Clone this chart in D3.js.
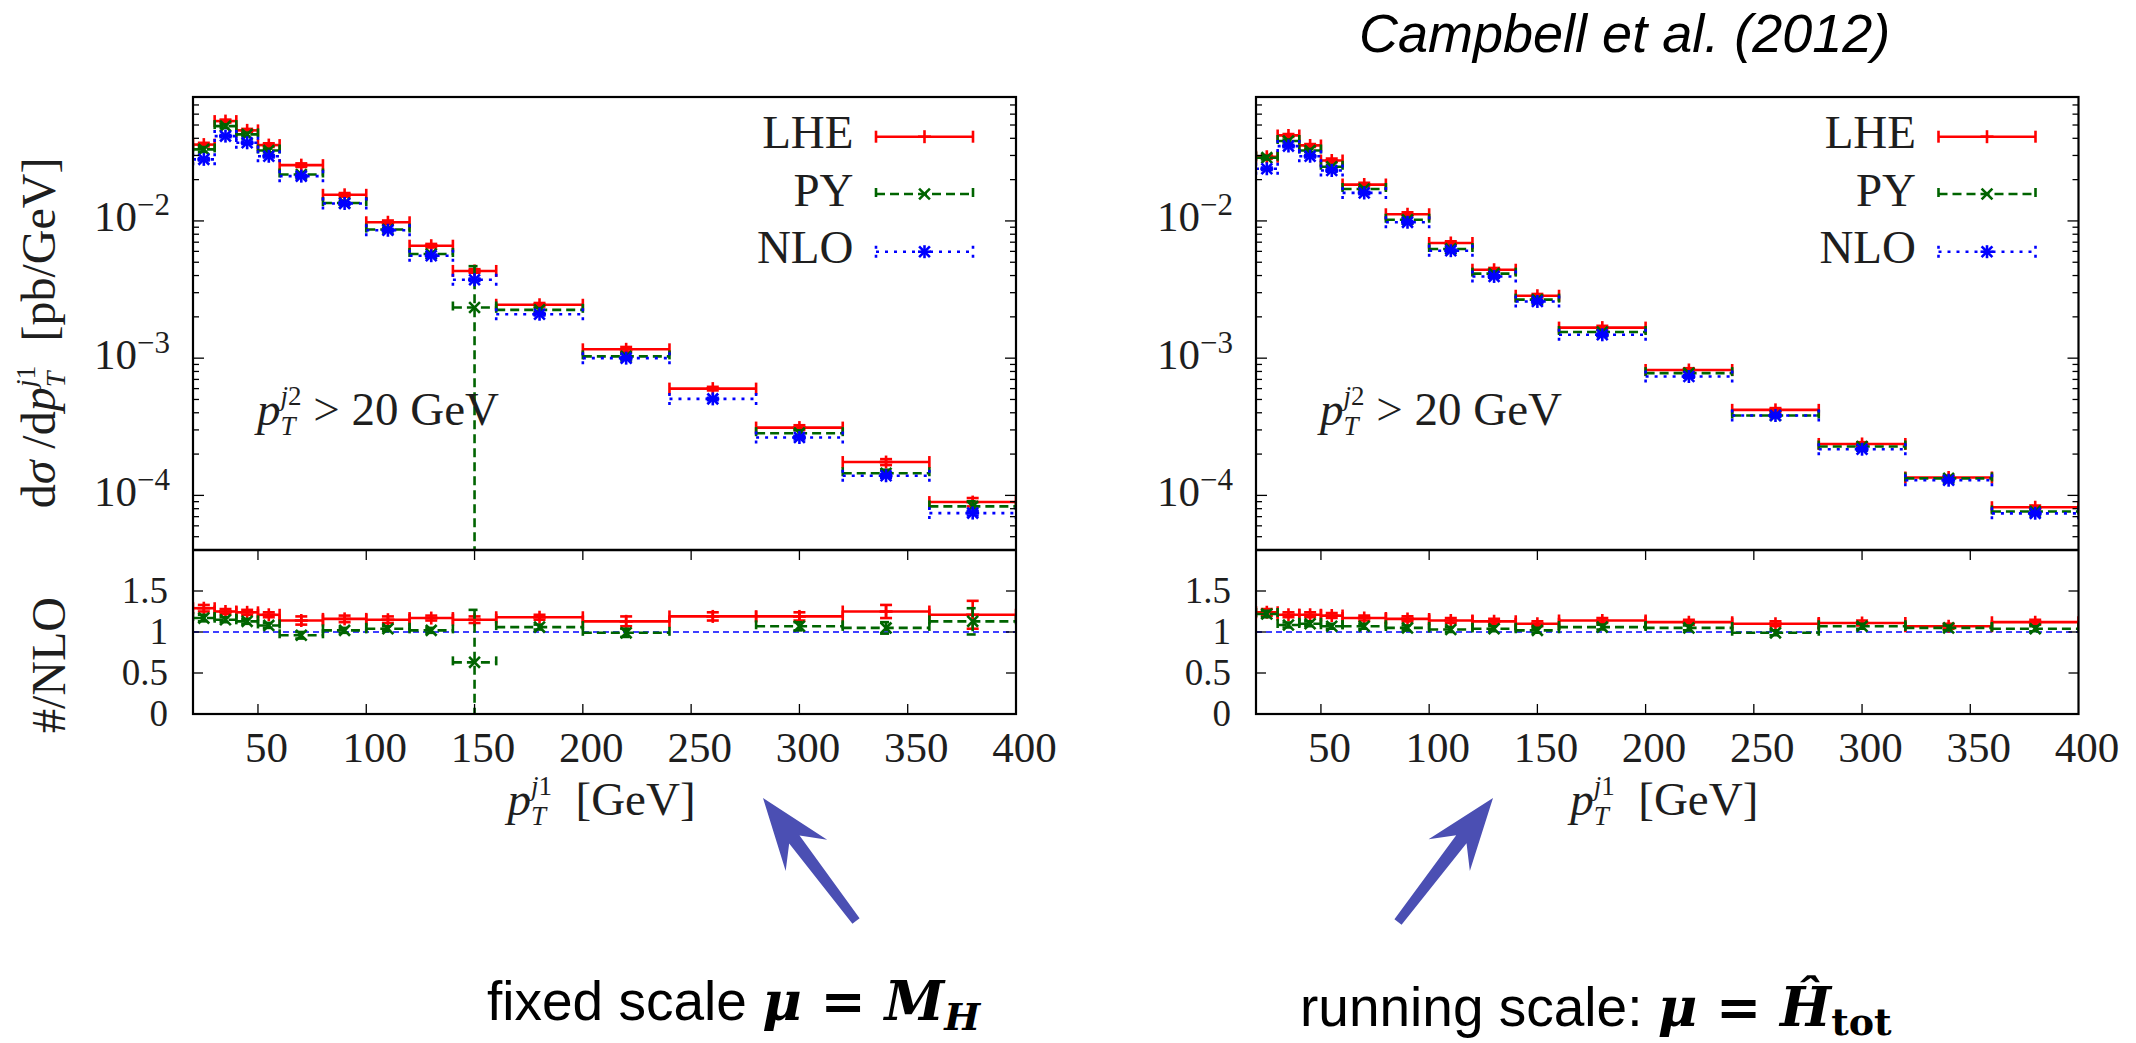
<!DOCTYPE html>
<html><head><meta charset="utf-8">
<script src="https://cdn.jsdelivr.net/npm/d3@7"></script>
<style>html,body{margin:0;padding:0;background:#fff;}svg{display:block;}</style>
</head><body>
<script>
// ---------------- DATA ----------------
const binLo = [20, 30, 40, 50, 60, 80, 100, 120, 140, 160, 200, 240, 280, 320, 360];
const binHi = [30, 40, 50, 60, 80, 100, 120, 140, 160, 200, 240, 280, 320, 360, 400];
const xTickValues = [50, 100, 150, 200, 250, 300, 350, 400];
const ratioTickValues = [0, 0.5, 1, 1.5];
const seriesNames = ["LHE", "PY", "NLO"];

// fixed scale (left) : dsigma/dpT [pb/GeV]
const lheFixed = [0.0360, 0.0534, 0.0457, 0.0357, 0.0255, 0.0155, 0.00978, 0.0066, 0.00432, 0.00245, 0.00116, 0.00060, 0.000312, 0.000175, 0.0000894];
const pyFixed  = [0.0332, 0.0491, 0.0427, 0.0326, 0.0218, 0.0135, 0.00865, 0.00574, 0.00234, 0.00225, 0.00103, null, 0.000284, 0.000145, 0.0000831];
const nloFixed = [0.0281, 0.0415, 0.0371, 0.0296, 0.0212, 0.0134, 0.00855, 0.00558, 0.00373, 0.00209, 0.00100, 0.000505, 0.000264, 0.000139, 0.0000743];
// relative errors
const lheErrFixed = [0.03, 0.025, 0.025, 0.03, 0.03, 0.03, 0.03, 0.03, 0.03, 0.03, 0.04, 0.03, 0.04, 0.05, 0.07];
const pyErrFixed  = [0.04, 0.03, 0.03, 0.03, 0.03, 0.03, 0.03, 0.03, 1.0, 0.03, 0.04, null, 0.05, 0.06, 0.09];
const nloErrFixed = [0.02, 0.02, 0.02, 0.02, 0.02, 0.02, 0.02, 0.02, 0.02, 0.02, 0.02, 0.02, 0.03, 0.03, 0.04];
// ratios to NLO
const lheRatioFixed = [1.29, 1.25, 1.24, 1.21, 1.14, 1.16, 1.15, 1.17, 1.15, 1.18, 1.13, 1.19, 1.19, 1.25, 1.21];
const pyRatioFixed  = [1.17, 1.15, 1.13, 1.08, 0.96, 1.02, 1.04, 1.02, 0.63, 1.06, 0.99, null, 1.07, 1.05, 1.13];
const lheRatioErrFixed = [0.04, 0.03, 0.03, 0.03, 0.05, 0.04, 0.04, 0.03, 0.04, 0.03, 0.06, 0.05, 0.05, 0.08, 0.17];
const pyRatioErrFixed  = [0.04, 0.03, 0.03, 0.03, 0.04, 0.03, 0.03, 0.03, 0.64, 0.03, 0.05, null, 0.05, 0.07, 0.16];

// running scale (right)
const lheRun = [0.0293, 0.0420, 0.0355, 0.0276, 0.0184, 0.0112, 0.00691, 0.00441, 0.00285, 0.00167, 0.00082, 0.00042, 0.000237, 0.000135, 0.000082];
const pyRun  = [0.0289, 0.0382, 0.0326, 0.0248, 0.0171, 0.0102, 0.00625, 0.00413, 0.00267, 0.00155, 0.000778, 0.000382, 0.000227, 0.000133, 0.0000764];
const nloRun = [0.0240, 0.0351, 0.0296, 0.0233, 0.0160, 0.00977, 0.00607, 0.00394, 0.00259, 0.00148, 0.000735, 0.000382, 0.000217, 0.000129, 0.000074];
const lheErrRun = [0.03, 0.025, 0.025, 0.03, 0.03, 0.03, 0.03, 0.03, 0.03, 0.03, 0.03, 0.03, 0.03, 0.03, 0.03];
const pyErrRun  = [0.03, 0.025, 0.025, 0.03, 0.03, 0.03, 0.03, 0.03, 0.03, 0.03, 0.03, 0.03, 0.03, 0.03, 0.03];
const nloErrRun = [0.02, 0.02, 0.02, 0.02, 0.02, 0.02, 0.02, 0.02, 0.02, 0.02, 0.02, 0.02, 0.02, 0.02, 0.02];
const lheRatioRun = [1.24, 1.21, 1.21, 1.20, 1.17, 1.16, 1.14, 1.13, 1.10, 1.14, 1.12, 1.10, 1.11, 1.07, 1.12];
const pyRatioRun  = [1.22, 1.085, 1.10, 1.07, 1.07, 1.05, 1.03, 1.04, 1.02, 1.06, 1.05, 0.99, 1.07, 1.05, 1.04];
const lheRatioErrRun = [0.04, 0.03, 0.03, 0.03, 0.03, 0.03, 0.03, 0.03, 0.03, 0.03, 0.03, 0.03, 0.03, 0.03, 0.03];
const pyRatioErrRun  = [0.04, 0.03, 0.03, 0.03, 0.03, 0.03, 0.03, 0.03, 0.03, 0.03, 0.03, 0.03, 0.03, 0.03, 0.03];

// ---------------- SETUP ----------------
const W = 2136, H = 1043;
const SERIF = "'Liberation Serif','DejaVu Serif',serif";
const SANS = "'Liberation Sans',Arial,sans-serif";
const MATHB = "'DejaVu Serif','Liberation Serif',serif";
const TXT = "#1e1e1e";
const yTop = 97, ySplit = 550, yBot = 714;
const LW = 2.6;

const styles = {
  LHE: {color: "#ff0000", dash: null, marker: "plus"},
  PY:  {color: "#006400", dash: "9,5", marker: "cross"},
  NLO: {color: "#0000ff", dash: "3,6", marker: "star"}
};

const svg = d3.select("body").append("svg").attr("width", W).attr("height", H)
  .style("background", "#fff");
const defs = svg.append("defs");

// rich text: one <text> element, pieces as tspans with measured positions
function rich(parent, x, y, pieces, o = {}) {
  const outer = parent.append("g");
  const txt = outer.append("text").style("white-space", "pre").attr("fill", o.fill || TXT);
  let cx = 0;
  const spans = [];
  function mk(p, px) {
    const t = txt.append("tspan").attr("x", px).attr("y", p.dy || 0)
      .attr("font-family", p.ff || SERIF).attr("font-size", p.fs)
      .attr("font-style", p.it ? "italic" : "normal")
      .attr("font-weight", p.b ? "bold" : "normal").text(p.t);
    spans.push([t, px]);
    return t.node().getComputedTextLength() + (p.sp || 0);
  }
  pieces.forEach(p => {
    if (p.stack) {
      const s = cx; let m = 0;
      p.stack.forEach(list => { let sx = s; list.forEach(q => { sx += mk(q, sx); }); m = Math.max(m, sx - s); });
      cx = s + m;
    } else cx += mk(p, cx);
  });
  const shift = o.anchor === "end" ? cx : o.anchor === "middle" ? cx / 2 : 0;
  spans.forEach(([t, px]) => t.attr("x", px - shift));
  outer.attr("transform", `translate(${x},${y})${o.rot ? ` rotate(${o.rot})` : ""}`);
  return cx;
}
// p_T^{j n} notation pieces
function pT(fs, sup) {
  const ss = Math.round(fs * 0.58);
  return [
    {t: "p", fs: fs, it: true},
    {stack: [[{t: "j", fs: ss, it: true, dy: -20}, {t: sup, fs: ss, dy: -20}], [{t: "T", fs: ss, it: true, dy: 10}]]}
  ];
}

function seg(g, x1, y1, x2, y2, st, w) {
  g.append("line").attr("x1", x1).attr("y1", y1).attr("x2", x2).attr("y2", y2)
    .attr("stroke", st.color).attr("stroke-width", w || LW)
    .attr("stroke-dasharray", st.dash).attr("stroke-linecap", "butt");
}
function marker(g, type, cx, cy, color) {
  const s = 6.5, d = 5.4;
  const st = {color: color, dash: null};
  if (type === "plus" || type === "star") { seg(g, cx - s, cy, cx + s, cy, st); seg(g, cx, cy - s, cx, cy + s, st); }
  if (type === "cross" || type === "star") { seg(g, cx - d, cy - d, cx + d, cy + d, st); seg(g, cx - d, cy + d, cx + d, cy - d, st); }
}

function drawBins(g, x, yv, yLow, yHigh, vals, st, yMinPx, yMaxPx) {
  vals.forEach((v, i) => {
    if (v == null) return;
    const xl = x(binLo[i]), xr = x(binHi[i]), xc = x((binLo[i] + binHi[i]) / 2), py = yv(v);
    seg(g, xl, py, xr, py, st);
    seg(g, xl, py - 6, xl, py + 6, st);
    seg(g, xr, py - 6, xr, py + 6, st);
    const ya = yHigh(i), yb = yLow(i);
    seg(g, xc, ya, xc, yb, st);
    if (ya >= yMinPx && ya <= yMaxPx) seg(g, xc - 6, ya, xc + 6, ya, st);
    if (yb >= yMinPx && yb <= yMaxPx) seg(g, xc - 6, yb, xc + 6, yb, st);
    marker(g, st.marker, xc, py, st.color);
  });
}

function drawPanel(cfg) {
  const {x0, x1, id} = cfg;
  const x = d3.scaleLinear().domain([20, 400]).range([x0, x1]);
  const y = d3.scaleLog().domain([4e-5, 0.08]).range([ySplit, yTop]);
  const yr = d3.scaleLinear().domain([0, 2]).range([yBot, ySplit]);
  const g = svg.append("g");

  defs.append("clipPath").attr("id", "cu" + id).append("rect")
    .attr("x", x0).attr("y", yTop).attr("width", x1 - x0).attr("height", ySplit - yTop);
  defs.append("clipPath").attr("id", "cl" + id).append("rect")
    .attr("x", x0).attr("y", ySplit).attr("width", x1 - x0).attr("height", yBot - ySplit);

  // upper panel data
  const gu = g.append("g").attr("clip-path", `url(#cu${id})`);
  const upper = [[cfg.lhe, cfg.lheErr, styles.LHE], [cfg.py, cfg.pyErr, styles.PY], [cfg.nlo, cfg.nloErr, styles.NLO]];
  upper.forEach(([vals, errs, st]) => {
    const yLow = i => { const lo = vals[i] * (1 - errs[i]); return lo <= 4e-5 ? ySplit + 20 : y(lo); };
    const yHigh = i => y(vals[i] * (1 + errs[i]));
    drawBins(gu, x, y, yLow, yHigh, vals, st, yTop, ySplit);
  });

  // lower panel data
  const gl = g.append("g").attr("clip-path", `url(#cl${id})`);
  gl.append("line").attr("x1", x0).attr("x2", x1).attr("y1", yr(1)).attr("y2", yr(1))
    .attr("stroke", "#0000ff").attr("stroke-width", 1.3).attr("stroke-dasharray", "6,4");
  const lower = [[cfg.lheR, cfg.lheRErr, styles.LHE], [cfg.pyR, cfg.pyRErr, styles.PY]];
  lower.forEach(([vals, errs, st]) => {
    const yLow = i => yr(Math.max(vals[i] - errs[i], -0.2));
    const yHigh = i => yr(vals[i] + errs[i]);
    drawBins(gl, x, yr, yLow, yHigh, vals, st, ySplit, yBot);
  });

  // frames
  const ga = g.append("g");
  ga.append("rect").attr("x", x0).attr("y", yTop).attr("width", x1 - x0).attr("height", yBot - yTop)
    .attr("fill", "none").attr("stroke", "#000").attr("stroke-width", 2.2);
  ga.append("line").attr("x1", x0).attr("x2", x1).attr("y1", ySplit).attr("y2", ySplit)
    .attr("stroke", "#000").attr("stroke-width", 2.6);

  // log ticks (upper)
  const logTicks = y.ticks();
  logTicks.forEach(t => {
    const m = Math.round(t / Math.pow(10, Math.floor(Math.log10(t) + 1e-9)));
    const major = m === 1;
    const len = major ? 11 : 6, py = y(t);
    if (py < yTop + 1 || py > ySplit - 1) return;
    ga.append("line").attr("x1", x0).attr("x2", x0 + len).attr("y1", py).attr("y2", py).attr("stroke", "#000").attr("stroke-width", 1.3);
    ga.append("line").attr("x1", x1).attr("x2", x1 - len).attr("y1", py).attr("y2", py).attr("stroke", "#000").attr("stroke-width", 1.3);
    if (major) {
      const e = Math.round(Math.log10(t));
      rich(ga, x0 - 23, py + 10.5, [
        {t: "10", fs: 43},
        {t: "\u2212" + Math.abs(e), fs: 31, dy: -16}
      ], {anchor: "end"});
    }
  });

  // lower y axis (ratio)
  const ayl = d3.axisLeft(yr).tickValues(ratioTickValues).tickSize(0).tickPadding(25).tickFormat(d => String(d));
  const ayg = ga.append("g").attr("transform", `translate(${x0},0)`).call(ayl);
  ayg.select(".domain").remove();
  ayg.selectAll("text").attr("font-family", SERIF).attr("font-size", 37).attr("fill", TXT)
    .attr("dy", null).attr("y", 11);
  ratioTickValues.filter(v => v > 0 && v < 2).forEach(v => {
    ga.append("line").attr("x1", x0).attr("x2", x0 + 10).attr("y1", yr(v)).attr("y2", yr(v)).attr("stroke", "#000").attr("stroke-width", 1.3);
    ga.append("line").attr("x1", x1).attr("x2", x1 - 10).attr("y1", yr(v)).attr("y2", yr(v)).attr("stroke", "#000").attr("stroke-width", 1.3);
  });

  // x axis (bottom of ratio panel)
  const axb = d3.axisBottom(x).tickValues(xTickValues).tickSize(0).tickPadding(0).tickFormat(d3.format("d"));
  const axg = ga.append("g").attr("transform", `translate(0,${yBot})`).call(axb);
  axg.select(".domain").remove();
  axg.selectAll("text").attr("font-family", SERIF).attr("font-size", 43).attr("fill", TXT)
    .attr("dy", null).attr("y", 48).attr("x", 8);
  xTickValues.forEach(v => {
    if (x(v) >= x1 - 1) return;
    ga.append("line").attr("x1", x(v)).attr("x2", x(v)).attr("y1", yBot).attr("y2", yBot - 10).attr("stroke", "#000").attr("stroke-width", 1.3);
    ga.append("line").attr("x1", x(v)).attr("x2", x(v)).attr("y1", ySplit).attr("y2", ySplit + 10).attr("stroke", "#000").attr("stroke-width", 1.3);
  });

  // x title
  rich(ga, (x0 + x1) / 2 - 3, 815, pT(47, "1").concat([{t: "  [GeV]", fs: 47}]), {anchor: "middle"});

  // annotation
  rich(ga, x0 + 64, 425, pT(47, "2").concat([{t: " > 20 GeV", fs: 47}]));

  // legend
  const legY = [136.7, 194, 251.7];
  seriesNames.forEach((name, k) => {
    const st = styles[name];
    const ly = legY[k];
    rich(ga, x1 - 162.5, ly + 11.5, [{t: name, fs: 47}], {anchor: "end"});
    const la = x1 - 140, lb = x1 - 43;
    seg(ga, la, ly, lb, ly, st);
    seg(ga, la, ly - 6, la, ly + 6, st);
    seg(ga, lb, ly - 6, lb, ly + 6, st);
    marker(ga, st.marker, (la + lb) / 2, ly, st.color);
  });

  if (cfg.yTitles) {
    rich(ga, 55, 333, [
      {t: "d", fs: 48}, {t: "\u03C3", fs: 48, it: true}, {t: " /d", fs: 48}
    ].concat(pT(48, "1")).concat([{t: "  [pb/GeV]", fs: 48}]), {anchor: "middle", rot: -90});
    rich(ga, 65, 665, [{t: "#/NLO", fs: 48}], {anchor: "middle", rot: -90});
  }
}

drawPanel({id: "L", x0: 193, x1: 1016, yTitles: true,
  lhe: lheFixed, py: pyFixed, nlo: nloFixed, lheErr: lheErrFixed, pyErr: pyErrFixed, nloErr: nloErrFixed,
  lheR: lheRatioFixed, pyR: pyRatioFixed, lheRErr: lheRatioErrFixed, pyRErr: pyRatioErrFixed});
drawPanel({id: "R", x0: 1256, x1: 2078.5, yTitles: false,
  lhe: lheRun, py: pyRun, nlo: nloRun, lheErr: lheErrRun, pyErr: pyErrRun, nloErr: nloErrRun,
  lheR: lheRatioRun, pyR: pyRatioRun, lheRErr: lheRatioErrRun, pyRErr: pyRatioErrRun});

// title
svg.append("text").attr("x", 1359).attr("y", 52).attr("font-family", SANS).attr("font-style", "italic")
  .attr("font-size", 54).attr("fill", "#000").text("Campbell et al. (2012)");

// arrows
function arrow(tail, tip) {
  const dx = tip[0] - tail[0], dy = tip[1] - tail[1], L = Math.hypot(dx, dy);
  const ux = dx / L, uy = dy / L, nx = -uy, ny = ux;
  const P = (a, b) => [tip[0] - ux * a + nx * b, tip[1] - uy * a + ny * b];
  const pts = [P(0, 0), P(72, 26), P(52, 6.5), P(L, 4.5), P(L, -4.5), P(52, -6.5), P(72, -26)];
  svg.append("polygon").attr("points", pts.map(p => p.join(",")).join(" ")).attr("fill", "#4b4fb3");
}
arrow([856, 921], [763, 798]);
arrow([1398, 922], [1493, 798]);

// bottom captions
rich(svg, 487, 1020, [
  {t: "fixed scale ", fs: 55, ff: SANS},
  {t: "\u03BC", fs: 54, ff: MATHB, it: true, b: true},
  {t: " = ", fs: 54, ff: MATHB, b: true},
  {t: "M", fs: 54, ff: MATHB, it: true, b: true},
  {t: "H", fs: 38, ff: MATHB, it: true, b: true, dy: 10}
], {fill: "#000"});
rich(svg, 1300, 1026, [
  {t: "running scale: ", fs: 55, ff: SANS},
  {t: "\u03BC", fs: 54, ff: MATHB, it: true, b: true},
  {t: " = ", fs: 54, ff: MATHB, b: true},
  {t: "\u0124", fs: 54, ff: MATHB, it: true, b: true},
  {t: "tot", fs: 38, ff: MATHB, b: true, dy: 9}
], {fill: "#000"});
</script>
</body></html>
